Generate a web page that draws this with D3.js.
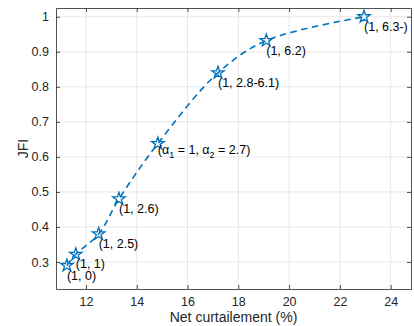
<!DOCTYPE html>
<html>
<head>
<meta charset="utf-8">
<script src="https://cdn.jsdelivr.net/npm/d3@7"></script>
<style>
  html, body { margin: 0; padding: 0; background: #fff; }
  svg { display: block; font-family: "Liberation Sans", Arial, Helvetica, sans-serif; }
</style>
</head>
<body>
<svg id="chart" width="414" height="326"></svg>
<script>
const curtailment = [11.25, 11.6, 12.5, 13.3, 14.83, 17.2, 19.1, 22.95];
const jfi = [0.29, 0.322, 0.38, 0.48, 0.638, 0.84, 0.932, 1.0];
const pointLabels = ["(1, 0)", "(1, 1)", "(1, 2.5)", "(1, 2.6)", null, "(1, 2.8-6.1)", "(1, 6.2)", "(1, 6.3-)"];
const xTicks = [12, 14, 16, 18, 20, 22, 24];
const yTicks = [0.3, 0.4, 0.5, 0.6, 0.7, 0.8, 0.9, 1];

const width = 414;
const height = 326;
const margin = { top: 8, right: 3, bottom: 37, left: 56 };
const blue = "#0072BD";
const axisColor = "#262626";

const svg = d3.select("#chart");

const x = d3.scaleLinear().domain([10.82, 24.8]).range([margin.left, width - margin.right]);
const y = d3.scaleLinear().domain([0.223, 1.025]).range([height - margin.bottom, margin.top]);

const [x0, x1] = x.range();
const [y0, y1] = y.range();

// grid
const grid = svg.append("g");
grid.selectAll("line.vx")
  .data(xTicks)
  .join("line")
  .attr("x1", (d) => x(d)).attr("x2", (d) => x(d))
  .attr("y1", y1).attr("y2", y0)
  .attr("stroke", "#e6e6e6").attr("stroke-width", 1);
grid.selectAll("line.hy")
  .data(yTicks)
  .join("line")
  .attr("x1", x0).attr("x2", x1)
  .attr("y1", (d) => y(d)).attr("y2", (d) => y(d))
  .attr("stroke", "#e6e6e6").attr("stroke-width", 1);

// axes (ticks point inward)
const xAxis = svg.append("g")
  .attr("transform", `translate(0,${y0})`)
  .call(d3.axisBottom(x).tickValues(xTicks).tickSizeInner(-4).tickSizeOuter(0).tickPadding(8));
const xAxisTop = svg.append("g")
  .attr("transform", `translate(0,${y1})`)
  .call(d3.axisTop(x).tickValues(xTicks).tickSizeInner(-4).tickSizeOuter(0).tickFormat(""));
const yAxis = svg.append("g")
  .attr("transform", `translate(${x0},0)`)
  .call(d3.axisLeft(y).tickValues(yTicks).tickSizeInner(-4).tickSizeOuter(0).tickPadding(7).tickFormat(d3.format("~g")));
const yAxisRight = svg.append("g")
  .attr("transform", `translate(${x1},0)`)
  .call(d3.axisRight(y).tickValues(yTicks).tickSizeInner(-4).tickSizeOuter(0).tickFormat(""));

[xAxis, xAxisTop, yAxis, yAxisRight].forEach((axis) => {
  axis.select(".domain").attr("stroke", axisColor).attr("stroke-width", 0.8);
  axis.selectAll(".tick line").attr("stroke", axisColor).attr("stroke-width", 0.8);
  axis.selectAll("text").attr("fill", axisColor).attr("font-size", 12.5)
    .attr("font-family", "'Liberation Sans', Arial, sans-serif");
});

// axis labels
svg.append("text")
  .attr("x", (x0 + x1) / 2).attr("y", 322)
  .attr("text-anchor", "middle")
  .attr("font-size", 14).attr("fill", axisColor)
  .text("Net curtailement (%)");

svg.append("text")
  .attr("transform", `translate(28,${(y0 + y1) / 2}) rotate(-90)`)
  .attr("text-anchor", "middle")
  .attr("font-size", 14).attr("fill", axisColor)
  .text("JFI");

// data
const points = curtailment.map((c, i) => ({ x: c, y: jfi[i], label: pointLabels[i] }));

svg.append("path")
  .datum(points)
  .attr("fill", "none")
  .attr("stroke", blue)
  .attr("stroke-width", 1.6)
  .attr("stroke-dasharray", "6.5,4.5")
  .attr("d", d3.line().x((d) => x(d.x)).y((d) => y(d.y)).curve(d3.curveCatmullRom.alpha(0.5)));

svg.append("g")
  .selectAll("path")
  .data(points)
  .join("path")
  .attr("transform", (d) => `translate(${x(d.x)},${y(d.y)})`)
  .attr("d", d3.symbol(d3.symbolStar, 48))
  .attr("fill", "none")
  .attr("stroke", blue)
  .attr("stroke-width", 1.3);

svg.append("g")
  .selectAll("text")
  .data(points.filter((d) => d.label))
  .join("text")
  .attr("x", (d) => x(d.x))
  .attr("y", (d) => y(d.y) + 14)
  .attr("font-size", 12.5)
  .attr("fill", "#000")
  .text((d) => d.label);

// alpha label with subscripts
const alphaPoint = points[4];
const alphaText = svg.append("text")
  .attr("x", x(alphaPoint.x))
  .attr("y", y(alphaPoint.y) + 10)
  .attr("font-size", 12.5)
  .attr("fill", "#000");
alphaText.append("tspan").text("(α");
alphaText.append("tspan").attr("dy", 4).attr("font-size", 9).text("1");
alphaText.append("tspan").attr("dy", -4).text(" = 1, α");
alphaText.append("tspan").attr("dy", 4).attr("font-size", 9).text("2");
alphaText.append("tspan").attr("dy", -4).text(" = 2.7)");
</script>
</body>
</html>
